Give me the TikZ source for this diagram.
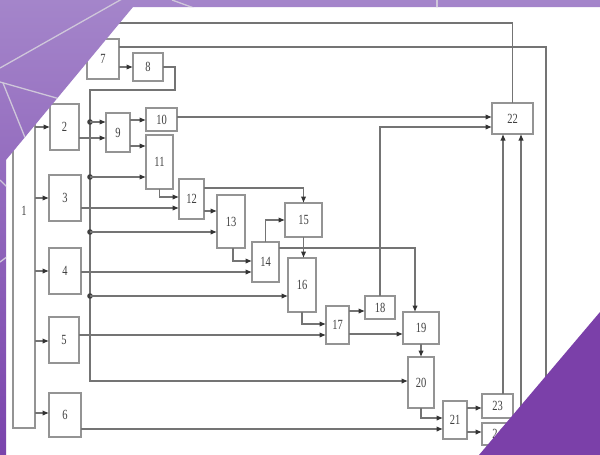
\documentclass[tikz,border=0pt]{standalone}
\usepackage{fontspec}
\newfontfamily\lblfont[FakeStretch=0.75]{Liberation Serif}
\usetikzlibrary{arrows.meta}
\definecolor{ptop}{HTML}{A485CA}
\definecolor{pbot}{HTML}{7A44AC}
\definecolor{ptri}{HTML}{7B40A9}
\definecolor{decoline}{HTML}{CFC7DA}
\definecolor{linegray}{HTML}{747474}
\definecolor{boxgray}{HTML}{949494}
\definecolor{txtgray}{HTML}{404040}
\tikzset{
  box/.style={draw=boxgray,line width=1.3pt,fill=white,inner sep=0pt,outer sep=0pt,
    font=\lblfont\fontsize{14}{14}\selectfont,text=txtgray},
  conn/.style={draw=linegray,line width=1.1pt},
  arr/.style={conn,-{Latex[length=6.5pt,width=5.5pt,color=black!80]}},
  thickedge/.style={draw=boxgray,line width=2.6pt},
  deco/.style={draw=decoline,line width=1.3pt}
}
\newcommand\bx[6]{\node[box,anchor=north west,minimum width={(#4-#2)*1pt},minimum height={(#5-#3)*1pt}] (#1) at (#2,#3) {#6};}
\newcommand\jdot[1]{\fill[black!75] (#1) circle (2.8pt);}
\begin{document}
\begin{tikzpicture}[x=1pt,y=-1pt]
\useasboundingbox (0,0) rectangle (600,455);
\fill[white] (0,0) rectangle (600,455);

% boxes
\bx{b1}{13}{15}{35}{428}{}
\node[font=\lblfont\fontsize{14}{14}\selectfont,text=txtgray] (l1) at (24,211) {1};
\bx{b2}{50}{104}{79}{150}{2}
\bx{b3}{49}{175}{81}{221}{3}
\bx{b4}{49}{248}{81}{294}{4}
\bx{b5}{49}{317}{79}{363}{5}
\bx{b6}{49}{393}{81}{437}{6}
\bx{b7}{87}{39}{119}{79}{7}
\bx{b8}{133}{53}{163}{81}{8}
\bx{b9}{106}{113}{130}{152}{9}
\bx{b10}{146}{108}{177}{131}{10}
\bx{b11}{146}{135}{173}{189}{11}
\bx{b12}{179}{179}{204}{219}{12}
\bx{b13}{217}{195}{245}{248}{13}
\bx{b14}{252}{242}{279}{282}{14}
\bx{b15}{285}{203}{322}{237}{15}
\bx{b16}{288}{258}{316}{312}{16}
\bx{b17}{326}{306}{349}{344}{17}
\bx{b18}{365}{296}{395}{319}{18}
\bx{b19}{403}{312}{439}{344}{19}
\bx{b20}{408}{357}{434}{408}{20}
\bx{b21}{443}{401}{467}{439}{21}
\bx{b22}{492}{103}{533}{134}{22}
\bx{b23}{482}{394}{513}{418}{23}
\bx{b24}{482}{423}{513}{445}{24}
\draw[thickedge] (b15.north west) -- (b15.north east);
\draw[thickedge] (b15.south west) -- (b15.south east);
\draw[thickedge] (b11.north west) -- (b11.north east);
\draw[thickedge] (b17.north west) -- (b17.north east);

% coordinates
\coordinate (t1) at (90,122);
\coordinate (t2) at (90,177);
\coordinate (t3) at (90,232);
\coordinate (t4) at (90,296);

% from box 1
\draw[arr] (b1.east |- b2.west) -- (b2.west);
\draw[arr] (b1.east |- b3.west) -- (b3.west);
\draw[arr] (b1.east |- b4.west) -- (b4.west);
\draw[arr] (b1.east |- 0,341) -- (b5.west |- 0,341);
\draw[arr] (b1.east |- 0,413) -- (b6.west |- 0,413);
\draw[conn] (b1.east |- 0,23) -| (b22.north);

% 7, 8 and bus
\draw[arr] (b7.east |- b8.west) -- (b8.west);
\draw[arr] (b7.east |- 0,47) -- (546,47) -- (546,438) -- (b24.east |- 0,438);
\draw[arr] (b8.east) -- (175,67) -- (175,90) -- (90,90) -- (90,381) -- (b20.west |- 0,381);
\jdot{t1}\jdot{t2}\jdot{t3}\jdot{t4}

% 9 .. 11
\draw[arr] (t1) -- (b9.west |- t1);
\draw[arr] (b2.east |- 0,138) -- (b9.west |- 0,138);
\draw[arr] (b9.east |- 0,120) -- (b10.west |- 0,120);
\draw[arr] (b9.east |- 0,146) -- (b11.west |- 0,146);
\draw[arr] (t2) -- (b11.west |- t2);
\draw[arr] (b10.east |- 0,117) -- (b22.west |- 0,117);

% 12 .. 16
\draw[arr] (b11.south) |- (b12.west |- 0,197);
\draw[arr] (b3.east |- 0,208) -- (b12.west |- 0,208);
\draw[arr] (b12.east |- 0,188) -| (b15.north);
\draw[arr] (b12.east |- 0,211) -- (b13.west |- 0,211);
\draw[arr] (t3) -- (b13.west |- t3);
\draw[arr] (b13.south -| 233,0) |- (b14.west |- 0,261);
\draw[arr] (b4.east |- 0,272) -- (b14.west |- 0,272);
\draw[arr] (b14.north) |- (b15.west);
\draw[arr] (b14.east |- 0,248) -| (b19.north -| 415,0);
\draw[arr] (b15.south) -- (b15.south |- b16.north);
\draw[arr] (t4) -- (b16.west |- t4);

% 17 .. 21
\draw[arr] (b16.south) |- (b17.west |- 0,324);
\draw[arr] (b5.east |- 0,335) -- (b17.west |- 0,335);
\draw[arr] (b17.east |- 0,311) -- (b18.west |- 0,311);
\draw[arr] (b17.east |- 0,334) -- (b19.west |- 0,334);
\draw[arr] (b18.north) |- (b22.west |- 0,127);
\draw[arr] (b19.south) -- (b20.north);
\draw[arr] (b20.south) |- (b21.west |- 0,418);
\draw[arr] (b6.east |- 0,429) -- (b21.west |- 0,429);
\draw[arr] (b21.east |- 0,408) -- (b23.west |- 0,408);
\draw[arr] (b21.east |- 0,432) -- (b24.west |- 0,432);
\draw[arr] (b23.north -| 503,0) -- (b22.south -| 503,0);
\draw[arr] (b24.east |- 0,434) -- (521,434) -- (b22.south -| 521,0);

% purple frame
\begin{scope}
\clip (0,0) -- (600,0) -- (600,7) -- (133,7) -- (6,160) -- (6,455) -- (0,455) -- cycle;
\shade[top color=ptop,bottom color=pbot] (0,0) rectangle (600,455);
\draw[deco] (0,68) -- (122,-1);
\draw[deco] (0,82) -- (60,99);
\draw[deco] (3,83) -- (26,140);
\draw[deco] (172,0) -- (194,8);
\draw[deco] (437,0) -- (437,8);
\draw[deco] (0,180) -- (8,188);
\draw[deco] (0,262) -- (8,256);
\end{scope}
\fill[ptri] (600,312) -- (479,455) -- (600,455) -- cycle;
\end{tikzpicture}
\end{document}
